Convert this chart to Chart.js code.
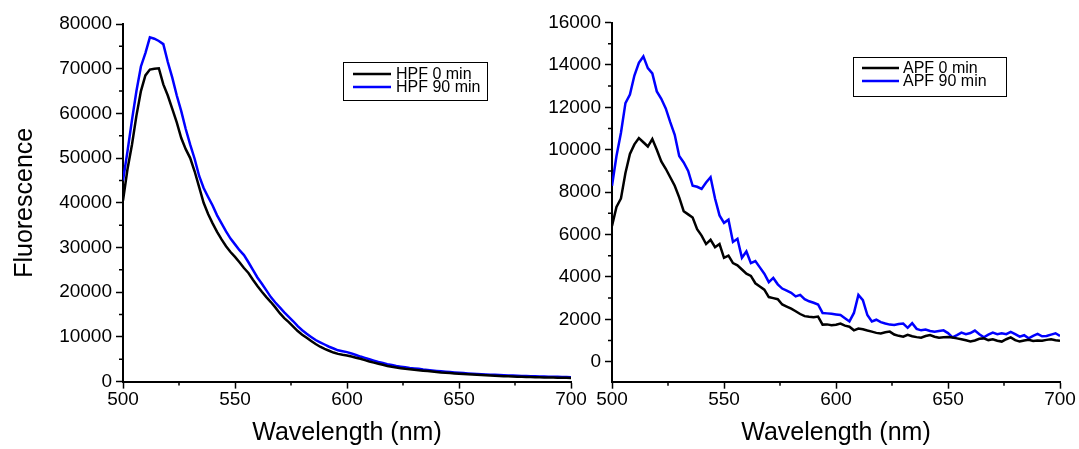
<!DOCTYPE html>
<html>
<head>
<meta charset="utf-8">
<script src="https://cdn.jsdelivr.net/npm/chart.js@4.4.1/dist/chart.umd.min.js"></script>
<style>
    html, body { margin: 0; padding: 0; background: #fff; }
    body { width: 1079px; height: 449px; position: relative; overflow: hidden; }
    canvas { position: absolute; top: 0; }
    #hpf-chart { left: 0; }
    #apf-chart { left: 540px; }
</style>
</head>
<body>
<canvas id="hpf-chart" width="590" height="449"></canvas>
<canvas id="apf-chart" width="539" height="449"></canvas>
<script>
// wavelength grid (nm), shared by both panels
const wavelengths = [
    500, 502, 504, 506, 508, 510, 512, 514, 516, 518, 520, 522, 524, 526, 528, 530, 532, 534, 536, 538,
    540, 542, 544, 546, 548, 550, 552, 554, 556, 558, 560, 562, 564, 566, 568, 570, 572, 574, 576, 578,
    580, 582, 584, 586, 588, 590, 592, 594, 596, 598, 600, 602, 604, 606, 608, 610, 612, 614, 616, 618,
    620, 622, 624, 626, 628, 630, 632, 634, 636, 638, 640, 642, 644, 646, 648, 650, 652, 654, 656, 658,
    660, 662, 664, 666, 668, 670, 672, 674, 676, 678, 680, 682, 684, 686, 688, 690, 692, 694, 696, 698,
    700
];

const hpf0 = [
    40500, 47500, 53000, 59500, 65000, 68500, 69800, 70000, 70100, 66500, 64000, 61000, 58000, 54500, 52000, 50000, 47000, 43500, 40000, 37500,
    35400, 33500, 31800, 30300, 29000, 27900, 26700, 25400, 24300, 22800, 21400, 20100, 18900, 17800, 16600, 15300, 14200, 13300, 12300, 11300,
    10500, 9800, 9100, 8400, 7800, 7300, 6900, 6500, 6200, 6000, 5850, 5600, 5350, 5100, 4800, 4500, 4250, 4000, 3750, 3500,
    3300, 3150, 3000, 2850, 2750, 2650, 2550, 2450, 2350, 2250, 2150, 2050, 1980, 1900, 1820, 1750, 1690, 1630, 1570, 1510,
    1450, 1400, 1350, 1300, 1250, 1200, 1170, 1140, 1110, 1080, 1050, 1020, 990, 960, 940, 920, 900, 880, 860, 840,
    820
];

const hpf90 = [
    45000, 51500, 58500, 65000, 70500, 73500, 77000, 76700, 76200, 75500, 71500, 68000, 64000, 60500, 56500, 53000, 49800, 46000, 43300, 41300,
    39400, 37200, 35400, 33600, 32000, 30700, 29400, 28300, 26700, 25000, 23300, 21900, 20400, 18900, 17700, 16600, 15500, 14500, 13500, 12400,
    11500, 10700, 10000, 9300, 8800, 8300, 7800, 7400, 7000, 6800, 6600, 6300, 5950, 5600, 5300, 5000, 4700, 4400, 4150, 3900,
    3700, 3500, 3350, 3200, 3050, 2950, 2850, 2700, 2600, 2500, 2400, 2300, 2220, 2140, 2060, 1980, 1910, 1840, 1780, 1720,
    1660, 1610, 1560, 1510, 1460, 1420, 1380, 1340, 1300, 1270, 1240, 1210, 1180, 1150, 1120, 1100, 1080, 1060, 1040, 1020,
    1000
];

const apf0 = [
    6400, 7300, 7700, 8900, 9800, 10250, 10550, 10350, 10150, 10500, 10000, 9450, 9100, 8700, 8300, 7750, 7100, 6950, 6800, 6250,
    5950, 5550, 5750, 5400, 5550, 4900, 5000, 4650, 4550, 4350, 4150, 4050, 3700, 3550, 3400, 3050, 3000, 2950, 2700, 2600,
    2500, 2380, 2250, 2150, 2120, 2100, 2130, 1750, 1760, 1720, 1740, 1800, 1700, 1650, 1480, 1560, 1530, 1470, 1420, 1360,
    1330, 1390, 1420, 1280, 1220, 1180, 1270, 1200, 1160, 1130, 1210, 1260, 1180, 1130, 1150, 1160, 1140, 1100, 1060, 1010,
    960, 1000, 1080, 1100, 1020, 1060, 990, 950, 1060, 1150, 1020, 950, 1000, 1030, 980, 1000, 990, 1030, 1060, 1010,
    990
];

const apf90 = [
    8300, 9700, 10800, 12200, 12600, 13500, 14100, 14400, 13850, 13600, 12750, 12400, 11950, 11300, 10700, 9700, 9400, 9000, 8300, 8250,
    8150, 8450, 8700, 7700, 6900, 6550, 6700, 5650, 5800, 4900, 5200, 4650, 4750, 4450, 4150, 3750, 3950, 3650, 3450, 3350,
    3250, 3080, 3150, 2950, 2850, 2780, 2700, 2300, 2280, 2260, 2230, 2200, 2050, 1900, 2300, 3150, 2900, 2200, 1900, 1980,
    1870, 1800, 1750, 1730, 1780, 1800, 1600, 1820, 1550, 1480, 1520, 1450, 1410, 1450, 1480, 1350, 1150, 1250, 1370, 1300,
    1350, 1470, 1300, 1150, 1280, 1370, 1300, 1340, 1300, 1410, 1300, 1180, 1250, 1100, 1220, 1310, 1200, 1210, 1280, 1340,
    1210
];

// axis ticks
const xMinorTicks = [525, 575, 625, 675];
const hpfMinorTicks = [5000, 15000, 25000, 35000, 45000, 55000, 65000, 75000];
const apfTicks = [0, 2000, 4000, 6000, 8000, 10000, 12000, 14000, 16000];
const apfMinorTicks = [1000, 3000, 5000, 7000, 9000, 11000, 13000, 15000];

const FONT = "'Liberation Sans', Arial, sans-serif";

const minorTicks = {
    id: 'minorTicks',
    afterDraw(chart, args, opts) {
        const ctx = chart.ctx;
        const xs = chart.scales.x;
        const ys = chart.scales.y;
        ctx.save();
        ctx.strokeStyle = '#000';
        ctx.lineWidth = 1.5;
        ctx.beginPath();
        opts.x.forEach(v => {
            const px = xs.getPixelForValue(v);
            ctx.moveTo(px, xs.top);
            ctx.lineTo(px, xs.top + opts.len);
        });
        opts.y.forEach(v => {
            const py = ys.getPixelForValue(v);
            ctx.moveTo(ys.right, py);
            ctx.lineTo(ys.right - opts.len, py);
        });
        ctx.stroke();
        ctx.restore();
    }
};

// Origin style boxed legend
const boxLegend = {
    id: 'boxLegend',
    afterDraw(chart, args, o) {
        const ctx = chart.ctx;
        ctx.save();
        ctx.strokeStyle = '#000';
        ctx.lineWidth = 1;
        ctx.strokeRect(o.x + 0.5, o.y + 0.5, o.w, o.h);
        ctx.font = `${o.size}px ${FONT}`;
        ctx.textBaseline = 'middle';
        ctx.fillStyle = '#000';
        chart.data.datasets.forEach((ds, i) => {
            const ry = o.y + o.first + i * o.rowH;
            ctx.strokeStyle = ds.borderColor;
            ctx.lineWidth = ds.borderWidth;
            ctx.beginPath();
            ctx.moveTo(o.x + o.lineFrom, ry);
            ctx.lineTo(o.x + o.lineTo, ry);
            ctx.stroke();
            ctx.fillText(ds.label, o.x + o.textX, ry + 1);
        });
        ctx.restore();
    }
};

function series(ys) {
    return wavelengths.map((w, i) => ({ x: w, y: ys[i] }));
}

function makeChart(id, cfg) {
    const ctx = document.getElementById(id).getContext('2d');
    return new Chart(ctx, {
        type: 'line',
        data: {
            datasets: [
                { label: cfg.labels[0], data: series(cfg.data[0]), borderColor: '#000000', borderWidth: 2.5, pointRadius: 0, tension: 0 },
                { label: cfg.labels[1], data: series(cfg.data[1]), borderColor: '#0000ff', borderWidth: 2.5, pointRadius: 0, tension: 0 }
            ]
        },
        plugins: [minorTicks, boxLegend],
        options: {
            responsive: false,
            animation: false,
            devicePixelRatio: 1,
            layout: { padding: cfg.padding },
            plugins: {
                legend: { display: false },
                tooltip: { enabled: false },
                minorTicks: { x: xMinorTicks, y: cfg.yMinor, len: 4 },
                boxLegend: cfg.legend
            },
            scales: {
                x: {
                    type: 'linear',
                    min: 500,
                    max: 700,
                    border: { display: true, color: '#000', width: 2 },
                    grid: { drawOnChartArea: false, drawTicks: true, tickLength: 7, tickColor: '#000', tickWidth: 1.5 },
                    ticks: { stepSize: 50, color: '#000', font: { family: FONT, size: 19 }, padding: 0, maxRotation: 0, autoSkip: false, callback: v => String(v) },
                    title: { display: true, text: 'Wavelength (nm)', color: '#000', font: { family: FONT, size: 25 }, padding: { top: 0, bottom: 1 } },
                    afterFit: s => { s.height = cfg.xHeight; s.paddingLeft = 0; s.paddingRight = 0; }
                },
                y: {
                    min: cfg.yMin,
                    max: cfg.yMax,
                    border: { display: true, color: '#000', width: 2 },
                    grid: { drawOnChartArea: false, drawTicks: true, tickLength: 7, tickColor: '#000', tickWidth: 1.5 },
                    ticks: { stepSize: cfg.yStep, color: '#000', font: { family: FONT, size: 19 }, padding: 4, autoSkip: false, callback: v => String(v) },
                    afterBuildTicks: cfg.yTicks ? (s => { s.ticks = cfg.yTicks.map(v => ({ value: v })); }) : undefined,
                    title: { display: !!cfg.yTitle, text: cfg.yTitle || '', color: '#000', font: { family: FONT, size: 25 }, padding: { top: 10, bottom: 0 } },
                    afterFit: s => { s.width = cfg.yWidth; s.paddingTop = 0; s.paddingBottom = 0; }
                }
            }
        }
    });
}

makeChart('hpf-chart', {
    labels: ['HPF 0 min', 'HPF 90 min'],
    data: [hpf0, hpf90],
    yMin: 0, yMax: 80000, yStep: 10000,
    yMinor: hpfMinorTicks,
    yTitle: 'Fluorescence',
    yWidth: 123, xHeight: 67.4,
    padding: { top: 24, right: 19, bottom: 0, left: 0 },
    legend: { x: 343, y: 62, w: 144, h: 38, first: 12, rowH: 13, lineFrom: 10, lineTo: 48, textX: 53, size: 16 }
});

makeChart('apf-chart', {
    labels: ['APF 0 min', 'APF 90 min'],
    data: [apf0, apf90],
    yMin: -943, yMax: 16000, yStep: 2000,
    yTicks: apfTicks,
    yMinor: apfMinorTicks,
    yWidth: 72, xHeight: 67.3,
    padding: { top: 22.5, right: 19, bottom: 0, left: 0 },
    legend: { x: 313, y: 57, w: 153, h: 39, first: 11, rowH: 13, lineFrom: 9, lineTo: 46, textX: 50, size: 16 }
});
</script>
</body>
</html>
